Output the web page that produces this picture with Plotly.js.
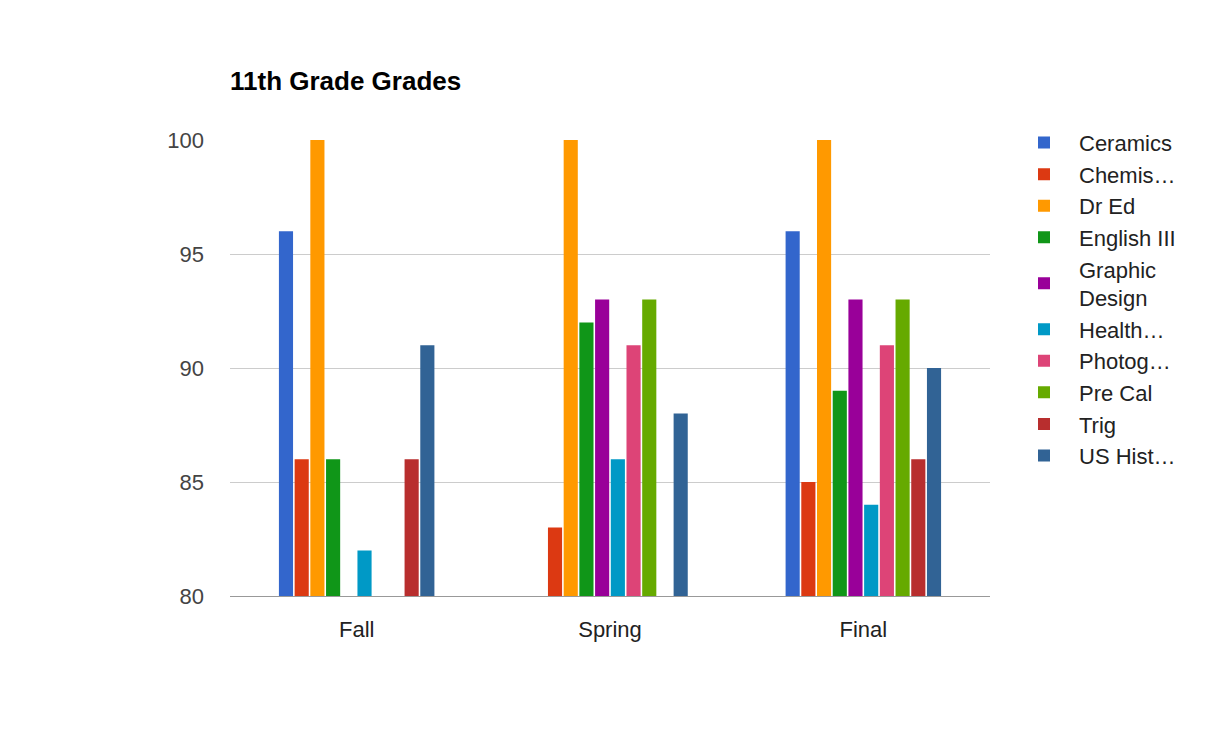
<!DOCTYPE html>
<html>
<head>
<meta charset="utf-8">
<script src="https://cdn.plot.ly/plotly-3.0.1.min.js"></script>
<style>body{margin:0;background:#fff}</style>
</head>
<body>
<div id="chart" style="width:1218px;height:737px"></div>
<script>
var terms = ['Fall', 'Spring', 'Final']
var subjects = ['Ceramics', 'Chemis\u2026', 'Dr Ed', 'English III', 'Graphic<br>Design', 'Health\u2026', 'Photog\u2026', 'Pre Cal', 'Trig', 'US Hist\u2026']
var colors = ['#3366cc', '#dc3912', '#ff9900', '#109618', '#990099', '#0099c6', '#dd4477', '#66aa00', '#b82e2e', '#316395']

var ceramics = [96, null, 96]
var chemistry = [86, 83, 85]
var drEd = [100, 100, 100]
var english = [86, 92, 89]
var graphic = [null, 93, 93]
var health = [82, 86, 84]
var photog = [null, 91, 91]
var preCal = [null, 93, 93]
var trig = [86, null, 86]
var usHist = [91, 88, 90]

var values = [ceramics, chemistry, drEd, english, graphic, health, photog, preCal, trig, usHist]

var data = []
for (var i = 0; i < subjects.length; i++) {
    data.push({
        type: 'bar',
        name: subjects[i],
        legendgroup: 'g' + i,
        x: terms,
        y: values[i],
        marker: { color: colors[i] },
        hoverinfo: 'name+y'
    })
}

var layout = {
    barmode: 'group',
    bargap: 0.38,
    bargroupgap: 0.1,
    margin: { l: 230, r: 228, t: 140, b: 141, pad: 0 },
    paper_bgcolor: '#fff',
    plot_bgcolor: '#fff',
    font: { family: 'Liberation Sans, Arial, sans-serif', color: '#222', size: 18 },
    title: {
        text: '<b>11th Grade Grades</b>',
        x: 230 / 1218, xanchor: 'left',
        y: 1 - 81 / 737, yanchor: 'middle',
        font: { size: 26, color: '#000' }
    },
    xaxis: {
        showgrid: false,
        showline: true,
        linecolor: '#999',
        ticks: '',
        ticklabelstandoff: 14,
        tickfont: { size: 22, color: '#222' }
    },
    yaxis: {
        range: [80, 100],
        dtick: 5,
        gridcolor: '#ccc',
        zeroline: false,
        ticks: '',
        ticklabelstandoff: 25,
        tickfont: { size: 22, color: '#444' }
    },
    showlegend: true,
    legend: {
        x: 1.025, xanchor: 'left',
        y: 1.04, yanchor: 'top',
        font: { size: 22, color: '#222' },
        itemwidth: 60,
        tracegroupgap: 12,
        traceorder: 'normal'
    }
}

Plotly.newPlot('chart', data, layout, { displayModeBar: false })
</script>
</body>
</html>
